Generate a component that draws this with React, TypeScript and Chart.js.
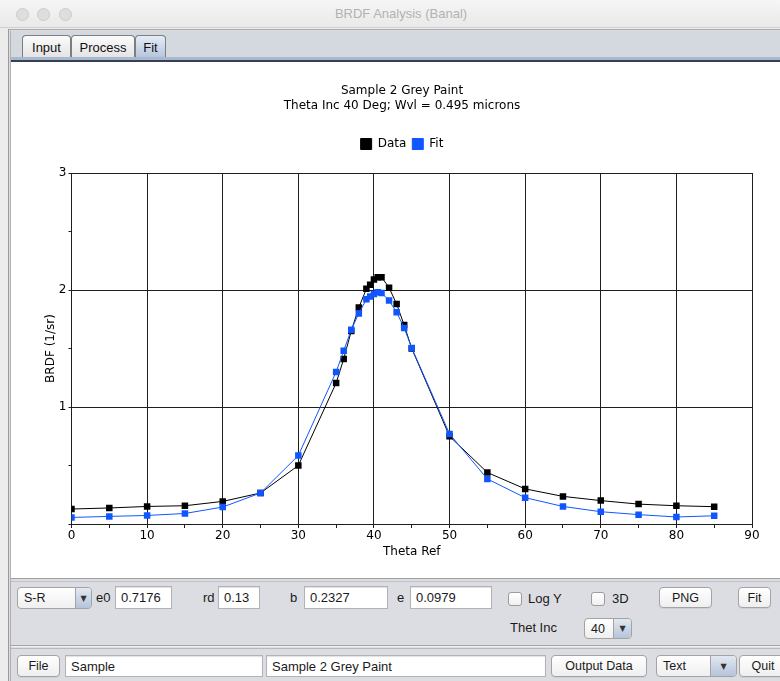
import React, { useEffect, useRef } from "react";
import { Chart, registerables } from "chart.js";

Chart.register(...registerables);

// ---- data ----
const thetaRef = [0, 5, 10, 15, 20, 25, 30, 35, 36, 37, 38, 39, 39.5, 40, 40.5, 41, 42, 43, 44, 45, 50, 55, 60, 65, 70, 75, 80, 85];
const dataValues = [0.128, 0.137, 0.15, 0.156, 0.193, 0.265, 0.5, 1.205, 1.41, 1.65, 1.85, 2.01, 2.045, 2.09, 2.11, 2.11, 2.02, 1.88, 1.7, 1.5, 0.75, 0.44, 0.3, 0.236, 0.2, 0.17, 0.156, 0.148];
const fitValues = [0.056, 0.065, 0.073, 0.09, 0.145, 0.265, 0.585, 1.3, 1.48, 1.66, 1.8, 1.92, 1.945, 1.965, 1.98, 1.975, 1.91, 1.81, 1.675, 1.505, 0.77, 0.385, 0.225, 0.15, 0.105, 0.08, 0.06, 0.07];
const seriesLabels = ["Data", "Fit"];
const chartTitle = ["Sample 2 Grey Paint", "Theta Inc 40 Deg; Wvl = 0.495 microns"];
const xAxisTitle = "Theta Ref";
const yAxisTitle = "BRDF (1/sr)";
const xRange = [0, 90];
const yRange = [0, 3];

const CHART_FONT = "'DejaVu Sans', sans-serif";
const UI_FONT = "'Liberation Sans', Arial, sans-serif";
const LINE = "#1e1e1e";
const DATA_COLOR = "#000000";
const FIT_COLOR = "rgb(16, 86, 255)";

function BrdfChart() {
  const ref = useRef<HTMLCanvasElement>(null);
  useEffect(() => {
    const font = { family: CHART_FONT, size: 12, weight: "normal" as const };
    const chart = new Chart(ref.current as HTMLCanvasElement, {
      type: "line",
      data: {
        datasets: [
          {
            label: seriesLabels[0],
            data: thetaRef.map((x, i) => ({ x, y: dataValues[i] })),
            borderColor: DATA_COLOR,
            backgroundColor: DATA_COLOR,
            borderWidth: 1,
            pointStyle: "rect",
            pointRadius: 4.6,
            pointBorderWidth: 0,
            tension: 0,
            order: 1,
          },
          {
            label: seriesLabels[1],
            data: thetaRef.map((x, i) => ({ x, y: fitValues[i] })),
            borderColor: FIT_COLOR,
            backgroundColor: FIT_COLOR,
            borderWidth: 1,
            pointStyle: "rect",
            pointRadius: 4.6,
            pointBorderWidth: 0,
            tension: 0,
            order: 0,
          },
        ],
      },
      options: {
        animation: false,
        responsive: false,
        devicePixelRatio: 1,
        layout: { padding: { left: 52, right: 28, top: 0, bottom: 0 } },
        plugins: {
          title: {
            display: true,
            text: chartTitle,
            color: "#000",
            font: { ...font, lineHeight: 1.25 },
            padding: { top: 21.5, bottom: 18.5 },
          },
          legend: {
            display: true,
            labels: {
              boxWidth: 11,
              boxHeight: 11,
              color: "#000",
              font,
              padding: 6,
              sort: (a: any, b: any) => a.datasetIndex - b.datasetIndex,
            },
          },
          tooltip: { enabled: false },
        },
        scales: {
          x: {
            type: "linear",
            position: "bottom",
            min: xRange[0],
            max: xRange[1],
            afterFit: (s: any) => {
              s.height = 54;
            },
            ticks: {
              stepSize: 5,
              maxTicksLimit: 100,
              autoSkip: false,
              maxRotation: 0,
              color: "#000",
              font,
              padding: 1,
              callback: (v: any) => (Number(v) % 10 === 0 ? String(v) : ""),
            },
            grid: {
              color: (c: any) => (c.tick && c.tick.value % 10 === 0 ? LINE : "rgba(0,0,0,0)"),
              tickColor: LINE,
              tickLength: 4,
              lineWidth: 1,
            },
            border: { color: LINE },
            title: { display: true, text: xAxisTitle, color: "#000", font, padding: { top: 0, bottom: 18.8 } },
          },
          xTop: {
            type: "linear",
            position: "top",
            display: true,
            afterFit: (s: any) => {
              s.height = 13;
            },
            grid: { display: false },
            border: { display: false },
            ticks: { display: false },
          },
          y: {
            type: "linear",
            min: yRange[0],
            max: yRange[1],
            afterFit: (s: any) => {
              s.width = 19.5;
            },
            ticks: {
              stepSize: 0.5,
              maxTicksLimit: 100,
              autoSkip: false,
              color: "#000",
              font,
              padding: 2,
              callback: (v: any) => (Number(v) > 0 && Number(v) % 1 === 0 ? String(v) : ""),
            },
            grid: {
              color: (c: any) => (c.tick && c.tick.value % 1 === 0 ? LINE : "rgba(0,0,0,0)"),
              tickColor: LINE,
              tickLength: 3,
              lineWidth: 1,
            },
            border: { color: LINE },
            title: { display: true, text: yAxisTitle, color: "#000", font, padding: { top: -8.2, bottom: 0 } },
          },
        },
      },
    } as any);
    return () => chart.destroy();
  }, []);
  return (
    <canvas
      ref={ref}
      width={780}
      height={516}
      style={{ position: "absolute", left: 0, top: 62, width: 780, height: 516 }}
    />
  );
}

type Box = { l: number; t: number; w: number; h: number };
const pos = (b: Box): React.CSSProperties => ({
  position: "absolute",
  left: b.l,
  top: b.t,
  width: b.w,
  height: b.h,
  boxSizing: "border-box",
});

function Button(props: Box & { text: string }) {
  return (
    <div
      style={{
        ...pos(props),
        background: "linear-gradient(#ffffff, #efefef)",
        border: "1px solid #a3a3a3",
        borderRadius: 4,
        display: "flex",
        alignItems: "center",
        justifyContent: "center",
        fontSize: 12.5,
        color: "#1a1a1a",
        boxShadow: "0 1px 0 rgba(0,0,0,0.06)",
      }}
    >
      {props.text}
    </div>
  );
}

function Field(props: Box & { text: string }) {
  return (
    <div
      style={{
        ...pos(props),
        background: "#fff",
        border: "1px solid #b3b3b3",
        boxShadow: "inset 0 1px 1px rgba(0,0,0,0.12)",
        display: "flex",
        alignItems: "center",
        paddingLeft: 5,
        fontSize: 13,
        color: "#1a1a1a",
        whiteSpace: "nowrap",
        overflow: "hidden",
      }}
    >
      {props.text}
    </div>
  );
}

function Combo(props: Box & { text: string; arrowW: number }) {
  return (
    <div
      style={{
        ...pos(props),
        background: "linear-gradient(#ffffff, #efefef)",
        border: "1px solid #a3a3a3",
        borderRadius: 4,
        overflow: "hidden",
        fontSize: 12.5,
        color: "#1a1a1a",
      }}
    >
      <div style={{ position: "absolute", left: 6, top: 0, bottom: 0, display: "flex", alignItems: "center" }}>
        {props.text}
      </div>
      <div
        style={{
          position: "absolute",
          right: 0,
          top: 0,
          bottom: 0,
          width: props.arrowW,
          background: "linear-gradient(#e2e8f1, #b5c4da)",
          borderLeft: "1px solid #a3a3a3",
          display: "flex",
          alignItems: "center",
          justifyContent: "center",
          fontSize: 8,
          color: "#333",
          fontFamily: "'DejaVu Sans', sans-serif",
        }}
      >
        ▼
      </div>
    </div>
  );
}

function Label(props: { l: number; cy: number; text: string }) {
  return (
    <div
      style={{
        position: "absolute",
        left: props.l,
        top: props.cy - 8,
        height: 16,
        lineHeight: "16px",
        fontSize: 13,
        color: "#1a1a1a",
        whiteSpace: "nowrap",
      }}
    >
      {props.text}
    </div>
  );
}

function Check(props: { l: number; cy: number; textL: number; text: string }) {
  return (
    <>
      <div
        style={{
          position: "absolute",
          left: props.l,
          top: props.cy - 7,
          width: 14,
          height: 14,
          boxSizing: "border-box",
          border: "1px solid #9c9c9c",
          borderRadius: 3,
          background: "linear-gradient(#ffffff, #f0f0f0)",
        }}
      />
      <Label l={props.textL} cy={props.cy} text={props.text} />
    </>
  );
}

function Tab(props: Box & { text: string; selected?: boolean }) {
  return (
    <div
      style={{
        ...pos(props),
        background: props.selected ? "linear-gradient(#e6edf7, #b3c4dc)" : "linear-gradient(#fbfbfb, #e3e3e3)",
        border: "1px solid #7e7e7e",
        borderBottom: "none",
        borderRadius: "4px 4px 0 0",
        display: "flex",
        alignItems: "center",
        justifyContent: "center",
        fontSize: 13,
        color: "#111",
      }}
    >
      {props.text}
    </div>
  );
}

export default function App() {
  return (
    <div
      style={{
        position: "absolute",
        left: 0,
        top: 0,
        width: 780,
        height: 681,
        overflow: "hidden",
        background: "#dcdde2",
        fontFamily: UI_FONT,
      }}
    >
      {/* window title bar */}
      <div
        style={{
          position: "absolute",
          left: 0,
          top: 0,
          width: 780,
          height: 27,
          background: "linear-gradient(#f6f6f6, #e9e9e9)",
          borderBottom: "1px solid #cfcfcf",
        }}
      />
      {[22, 43.5, 65].map((cx) => (
        <div
          key={cx}
          style={{
            position: "absolute",
            left: cx - 6.5,
            top: 7.5,
            width: 13,
            height: 13,
            boxSizing: "border-box",
            borderRadius: "50%",
            background: "#dedede",
            border: "1px solid #cbcbcb",
          }}
        />
      ))}
      <div
        style={{
          position: "absolute",
          left: 300,
          top: 6,
          width: 202,
          textAlign: "center",
          fontSize: 13,
          color: "#b2b2b2",
          lineHeight: "16px",
        }}
      >
        BRDF Analysis (Banal)
      </div>
      {/* frame */}
      <div style={{ position: "absolute", left: 0, top: 28, width: 8, height: 653, background: "#ececec" }} />
      <div style={{ position: "absolute", left: 0, top: 28, width: 780, height: 2, background: "#ececec" }} />
      <div style={{ position: "absolute", left: 8, top: 29, width: 772, height: 1, background: "#a9a9a9" }} />
      <div style={{ position: "absolute", left: 8, top: 29, width: 1, height: 652, background: "#9a9a9a" }} />
      <div style={{ position: "absolute", left: 10, top: 31, width: 1, height: 650, background: "#b0b0b0" }} />
      {/* tab strip */}
      <div style={{ position: "absolute", left: 11, top: 31, width: 769, height: 27, background: "#d4d8df" }} />
      <Tab l={22} t={35} w={49} h={23} text="Input" />
      <Tab l={71} t={35} w={64} h={23} text="Process" />
      <Tab l={135} t={35} w={31} h={23} text="Fit" selected />
      <div style={{ position: "absolute", left: 11, top: 57, width: 769, height: 3, background: "#a9b8cd" }} />
      <div style={{ position: "absolute", left: 11, top: 60, width: 769, height: 2, background: "#34405a" }} />
      {/* chart panel */}
      <div style={{ position: "absolute", left: 11, top: 62, width: 769, height: 516, background: "#ffffff" }} />
      <BrdfChart />
      {/* control panel */}
      <div style={{ position: "absolute", left: 11, top: 578, width: 769, height: 1, background: "#9f9f9f" }} />
      <div style={{ position: "absolute", left: 11, top: 581, width: 769, height: 1, background: "#c3c3c6" }} />
      <Combo l={17} t={587} w={75} h={22} text="S-R" arrowW={15} />
      <Label l={96} cy={598} text="e0" />
      <Field l={115} t={586} w={57} h={23} text="0.7176" />
      <Label l={203} cy={598} text="rd" />
      <Field l={218} t={586} w={42} h={23} text="0.13" />
      <Label l={290} cy={598} text="b" />
      <Field l={304} t={586} w={84} h={23} text="0.2327" />
      <Label l={397} cy={598} text="e" />
      <Field l={410} t={586} w={82} h={23} text="0.0979" />
      <Check l={508} cy={599} textL={528} text="Log Y" />
      <Check l={591} cy={599} textL={612} text="3D" />
      <Button l={659} t={587} w={53} h={21} text="PNG" />
      <Button l={738} t={587} w={33} h={21} text="Fit" />
      <Label l={510} cy={628} text="Thet Inc" />
      <Combo l={584} t={618} w={48} h={21} text="40" arrowW={17} />
      {/* separator */}
      <div style={{ position: "absolute", left: 11, top: 645, width: 769, height: 1, background: "#a3a3a3" }} />
      <div style={{ position: "absolute", left: 11, top: 646, width: 769, height: 1, background: "#f2f2f2" }} />
      <div style={{ position: "absolute", left: 11, top: 648, width: 769, height: 1, background: "#b9b9bc" }} />
      {/* bottom row */}
      <Button l={17} t={655} w={43} h={22} text="File" />
      <Field l={65} t={655} w={198} h={22} text="Sample" />
      <Field l={266} t={655} w={280} h={22} text="Sample 2 Grey Paint" />
      <Button l={551} t={655} w={96} h={22} text="Output Data" />
      <Combo l={656} t={655} w={81} h={22} text="Text" arrowW={25} />
      <Button l={739} t={655} w={48} h={22} text="Quit" />
    </div>
  );
}
